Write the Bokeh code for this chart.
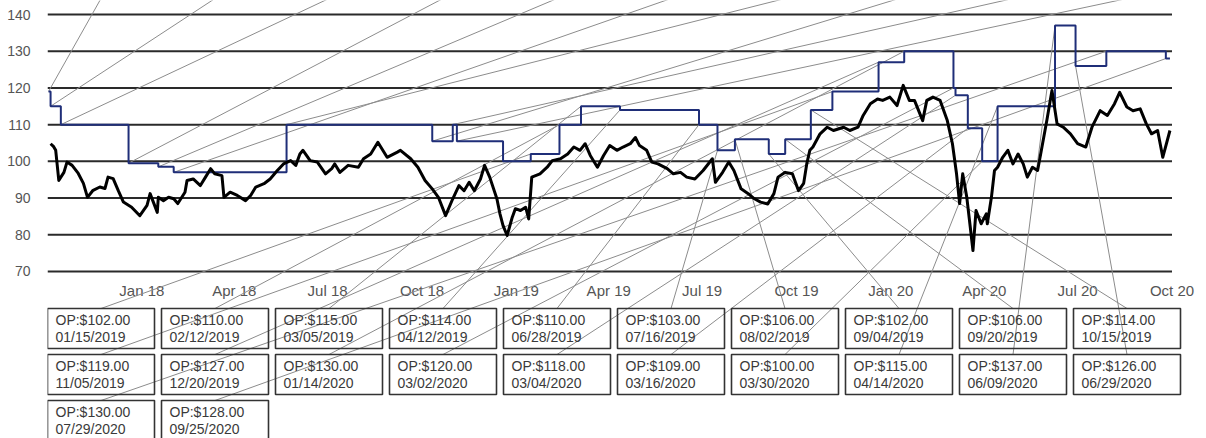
from datetime import datetime, timedelta
import pandas as pd
from bokeh.plotting import figure
from bokeh.models import Range1d, FixedTicker
from bokeh.embed import file_html
from bokeh.resources import INLINE
from bokeh.core.properties import value

# ---------------- data ----------------
price_dates = [
    "2017-10-04", "2017-10-07", "2017-10-09", "2017-10-12", "2017-10-17", "2017-10-20", "2017-10-25", "2017-10-31",
    "2017-11-05", "2017-11-09", "2017-11-14", "2017-11-21", "2017-11-26", "2017-11-29", "2017-12-04", "2017-12-09",
    "2017-12-14", "2017-12-22", "2017-12-30", "2018-01-06", "2018-01-09", "2018-01-16", "2018-01-17", "2018-01-22",
    "2018-01-27", "2018-02-01", "2018-02-05", "2018-02-12", "2018-02-14", "2018-02-20", "2018-02-27", "2018-03-04",
    "2018-03-09", "2018-03-13", "2018-03-20", "2018-03-22", "2018-03-28", "2018-04-04", "2018-04-12", "2018-04-17",
    "2018-04-22", "2018-04-30", "2018-05-06", "2018-05-13", "2018-05-19", "2018-05-26", "2018-05-31", "2018-06-04",
    "2018-06-07", "2018-06-14", "2018-06-21", "2018-06-29", "2018-07-05", "2018-07-08", "2018-07-13", "2018-07-21",
    "2018-07-31", "2018-08-05", "2018-08-12", "2018-08-19", "2018-08-28", "2018-09-07", "2018-09-10", "2018-09-20",
    "2018-09-27", "2018-10-04", "2018-10-11", "2018-10-17", "2018-10-24", "2018-10-31", "2018-11-06", "2018-11-11",
    "2018-11-16", "2018-11-21", "2018-11-27", "2018-12-01", "2018-12-06", "2018-12-13", "2018-12-16", "2018-12-19",
    "2018-12-23", "2018-12-28", "2018-12-31", "2019-01-05", "2019-01-10", "2019-01-13", "2019-01-16", "2019-01-24",
    "2019-01-31", "2019-02-05", "2019-02-13", "2019-02-20", "2019-02-26", "2019-03-04", "2019-03-09", "2019-03-14",
    "2019-03-21", "2019-03-27", "2019-04-02", "2019-04-09", "2019-04-15", "2019-04-22", "2019-04-27", "2019-05-01",
    "2019-05-08", "2019-05-13", "2019-05-19", "2019-05-28", "2019-06-03", "2019-06-10", "2019-06-16", "2019-06-24",
    "2019-07-02", "2019-07-11", "2019-07-14", "2019-07-21", "2019-07-27", "2019-08-01", "2019-08-08", "2019-08-15",
    "2019-08-21", "2019-08-27", "2019-09-03", "2019-09-09", "2019-09-13", "2019-09-20", "2019-09-27", "2019-10-03",
    "2019-10-08", "2019-10-11", "2019-10-14", "2019-10-17", "2019-10-24", "2019-10-31", "2019-11-06", "2019-11-16",
    "2019-11-22", "2019-11-30", "2019-12-05", "2019-12-12", "2019-12-19", "2019-12-24", "2019-12-31", "2020-01-07",
    "2020-01-13", "2020-01-19", "2020-01-24", "2020-02-01", "2020-02-05", "2020-02-11", "2020-02-18", "2020-02-25",
    "2020-03-01", "2020-03-05", "2020-03-08", "2020-03-11", "2020-03-15", "2020-03-18", "2020-03-21", "2020-03-24",
    "2020-03-29", "2020-04-03", "2020-04-04", "2020-04-08", "2020-04-11", "2020-04-14", "2020-04-19", "2020-04-24",
    "2020-04-29", "2020-05-04", "2020-05-09", "2020-05-13", "2020-05-18", "2020-05-23", "2020-05-26", "2020-06-01",
    "2020-06-06", "2020-06-11", "2020-06-17", "2020-06-24", "2020-07-01", "2020-07-09", "2020-07-15", "2020-07-23",
    "2020-07-30", "2020-08-06", "2020-08-11", "2020-08-18", "2020-08-24", "2020-08-31", "2020-09-06", "2020-09-11",
    "2020-09-17", "2020-09-22", "2020-09-29",
]
price_values = [
    104.8, 104.0, 103.0, 94.8, 97.0, 99.8, 98.9, 96.7,
    94.0, 90.2, 92.0, 93.0, 92.6, 95.7, 95.3, 92.0,
    88.9, 87.5, 85.2, 88.0, 91.2, 86.1, 90.2, 89.3,
    90.2, 89.8, 88.5, 91.6, 94.8, 95.2, 93.4, 95.7,
    98.0, 96.6, 96.1, 90.2, 91.6, 90.7, 89.3, 90.7,
    93.0, 93.9, 95.2, 97.5, 99.3, 100.2, 98.9, 102.0,
    103.0, 100.2, 99.8, 96.6, 98.0, 99.3, 97.0, 98.9,
    98.4, 100.7, 102.0, 105.2, 101.1, 102.5, 103.0, 100.7,
    98.4, 94.8, 92.5, 90.2, 85.2, 89.8, 93.4, 92.0,
    94.3, 92.0, 95.2, 98.9, 95.7, 89.8, 85.7, 82.5,
    79.8, 84.8, 87.1, 86.6, 87.5, 84.3, 95.7, 96.6,
    98.4, 100.2, 100.7, 102.0, 103.9, 103.0, 104.8, 101.6,
    98.4, 101.6, 104.3, 103.0, 103.9, 104.8, 106.5, 104.3,
    103.0, 99.8, 99.3, 98.0, 96.6, 97.0, 95.7, 95.2,
    97.5, 100.7, 94.3, 97.0, 99.8, 97.5, 92.5, 91.2,
    89.8, 88.9, 88.4, 91.2, 95.7, 97.0, 96.6, 92.0,
    94.0, 99.3, 103.0, 103.9, 107.5, 109.3, 108.4, 109.3,
    108.4, 109.3, 112.5, 115.7, 117.0, 116.6, 117.5, 115.2,
    120.7, 116.6, 116.6, 111.1, 116.6, 117.5, 116.6, 111.1,
    104.8, 96.6, 88.5, 96.6, 90.2, 83.0, 75.7, 86.6,
    83.0, 85.7, 83.0, 90.2, 97.5, 98.4, 101.1, 103.0,
    99.3, 102.0, 99.3, 95.7, 98.4, 97.5, 102.0, 111.1,
    119.3, 110.2, 109.3, 107.5, 104.8, 103.9, 109.3, 113.8,
    112.5, 115.7, 118.8, 114.8, 113.8, 114.3, 110.2, 107.5,
    108.4, 101.1, 108.4,
]

# offer-price steps (date of change, new offer price)
step_dates = [
    "2017-10-02", "2017-10-04", "2017-10-14", "2017-12-19", "2018-01-17", "2018-02-01",
    "2018-05-22", "2018-10-11", "2018-10-31", "2018-11-04", "2018-12-19",
    "2019-01-15", "2019-02-12", "2019-03-05", "2019-04-12", "2019-06-28", "2019-07-16",
    "2019-08-02", "2019-09-04", "2019-09-20", "2019-10-15", "2019-11-05", "2019-12-20",
    "2020-01-14", "2020-03-02", "2020-03-04", "2020-03-16", "2020-03-30", "2020-04-14",
    "2020-06-09", "2020-06-29", "2020-07-29", "2020-09-25",
]
step_values = [
    119, 115, 110, 99.5, 98.5, 97,
    110, 105.5, 110, 105.5, 100,
    102, 110, 115, 114, 110, 103,
    106, 102, 106, 114, 119, 127,
    130, 120, 118, 109, 100, 115,
    137, 126, 130, 128,
]
series_end = "2020-09-29"
first_boxed_step = "2019-01-15"
n_top_leaders = 10

tick_labels = ["Jan 18", "Apr 18", "Jul 18", "Oct 18", "Jan 19", "Apr 19",
               "Jul 19", "Oct 19", "Jan 20", "Apr 20", "Jul 20", "Oct 20"]
tick_dates = ["2018-01-01", "2018-04-01", "2018-07-01", "2018-10-01", "2019-01-01", "2019-04-01",
              "2019-07-01", "2019-10-01", "2020-01-01", "2020-04-01", "2020-07-01", "2020-10-01"]
y_ticks = [70, 80, 90, 100, 110, 120, 130, 140]
grid_start = "2017-10-01"
grid_end = "2020-10-01"

# ---------------- layout ----------------
W, H = 1206, 438
LEFT = 47
PX_PER_DAY = 1.026
PX_PER_UNIT = 3.671
Y_TOP = 140 + 14 / PX_PER_UNIT
X0 = datetime(2017, 10, 1)
X1 = X0 + timedelta(days=(W - LEFT) / PX_PER_DAY)
Y_BOT = Y_TOP - H / PX_PER_UNIT


def px_x(px):
    return X0 + timedelta(days=(px - LEFT) / PX_PER_DAY)


def px_y(py):
    return Y_TOP - py / PX_PER_UNIT


def d(s):
    return pd.Timestamp(s).to_pydatetime()


FONT = value("Liberation Sans")
TXT = "#3a3a3a"

p = figure(width=W, height=H, x_axis_type="datetime", x_axis_location=None,
           x_range=Range1d(X0, X1), y_range=Range1d(Y_BOT, Y_TOP),
           output_backend="svg", toolbar_location=None,
           min_border_left=LEFT, min_border_right=0, min_border_top=0, min_border_bottom=0)
p.outline_line_color = None
p.xgrid.visible = False
p.ygrid.visible = False
p.background_fill_color = "white"
p.border_fill_color = "white"

ax = p.yaxis[0]
ax.ticker = FixedTicker(ticks=y_ticks)
ax.axis_line_color = None
ax.major_tick_line_color = None
ax.minor_tick_line_color = None
ax.major_label_standoff = 11
ax.major_label_text_font = "Liberation Sans"
ax.major_label_text_font_size = "14px"
ax.major_label_text_color = "#555555"

# horizontal grid lines
p.segment(x0=[d(grid_start)] * len(y_ticks), y0=y_ticks,
          x1=[d(grid_end)] * len(y_ticks), y1=y_ticks,
          line_color="#2a2a2a", line_width=2)

# x tick labels
p.text(x=[d(t) for t in tick_dates], y=[px_y(290)] * len(tick_dates), text=tick_labels,
       text_font=FONT, text_font_size="15px", text_color="#555555",
       text_align="center", text_baseline="middle")

# annotation boxes (bottom grid) and their leaders
sd = [d(s) for s in step_dates]
boxed = [i for i, s in enumerate(step_dates) if s >= first_boxed_step]
bx, by, t1x, t1y, t2y, lab1, lab2, lx0, ly0, lx1, ly1 = ([] for _ in range(11))
for k, i in enumerate(boxed):
    c, r = k % 10, k // 10
    left = LEFT + 114 * c
    top = 308 + 46 * r
    bx.append(px_x(left + 53.5))
    by.append(px_y(top + 20))
    t1x.append(px_x(left + 8))
    t1y.append(px_y(top + 11))
    t2y.append(px_y(top + 28))
    lab1.append("OP:${:.2f}".format(step_values[i]))
    lab2.append(sd[i].strftime("%m/%d/%Y"))
    lx0.append(px_x(left + 53.5)); ly0.append(px_y(top))
    lx1.append(sd[i]); ly1.append(step_values[i])

# leaders of the earlier steps, running to boxes above the visible area
for k in range(n_top_leaders):
    lx0.append(sd[k]); ly0.append(step_values[k])
    lx1.append(px_x(LEFT + 114 * k + 53.5)); ly1.append(px_y(-2))

p.segment(x0=lx0, y0=ly0, x1=lx1, y1=ly1, line_color="#8c8c8c", line_width=1)

p.rect(x=bx, y=by, width=107, height=40, width_units="screen", height_units="screen",
       fill_color=None, line_color="#333333", line_width=1.6)
p.text(x=t1x, y=t1y, text=lab1, text_font=FONT, text_font_size="14px", text_color=TXT,
       text_align="left", text_baseline="middle")
p.text(x=t1x, y=t2y, text=lab2, text_font=FONT, text_font_size="14px", text_color=TXT,
       text_align="left", text_baseline="middle")

# offer price step line
p.step(x=sd + [d(series_end)], y=step_values + [step_values[-1]], mode="after",
       line_color="#1f2e78", line_width=2)

# price line
p.line(x=[d(s) for s in price_dates], y=price_values, line_color="black", line_width=3,
       line_join="round")

open("out.html", "w").write(file_html(p, INLINE))
